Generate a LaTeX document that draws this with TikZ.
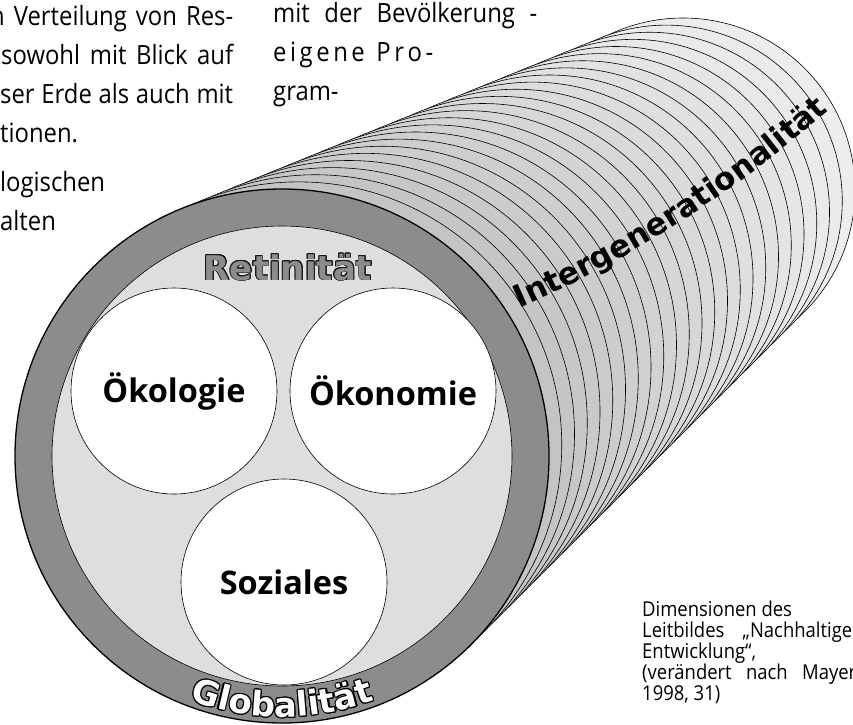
\documentclass[tikz,border=0pt]{standalone}
\usepackage{fontspec}
\setmainfont{Open Sans}
\newfontfamily\narrowsans{Open Sans}[FakeStretch=0.9]
\newfontfamily\dvs{DejaVu Sans}
\usetikzlibrary{decorations.text}
\definecolor{ringdark}{HTML}{8C8C8C}
\definecolor{discgray}{HTML}{DEDEDE}
\newcommand\olt[3]{%
  \leavevmode
  \foreach \oa in {15,45,...,345}{%
    \rlap{\hspace*{\fpeval{round(1.0*cosd(\oa),3)}pt}\raisebox{\fpeval{round(1.0*sind(\oa),3)}pt}{\color{#1}#3}}%
  }%
  {\color{#2}#3}}
\newcommand\glfont{\dvs\bfseries\fontsize{34}{34}\selectfont}
\newcommand\igfont{\dvs\bfseries\fontsize{31}{31}\selectfont}
\tikzset{
  body/.style={font=\narrowsans\fontsize{26.5}{30}\selectfont, inner sep=0pt, anchor=base west},
  capt/.style={font=\narrowsans\fontsize{20.5}{22}\selectfont, inner sep=0pt, anchor=base west},
  dim/.style={circle, draw=black, line width=0.6pt, fill=white, minimum size=206pt, inner sep=0pt,
              font=\bfseries\fontsize{32.5}{34}\selectfont},
  tubering/.style={draw=black, line width=0.6pt}
}
\begin{document}
\begin{tikzpicture}[x=1pt,y=-1pt]
\useasboundingbox (0,0) rectangle (853,724);
% receding rings of the tube
\foreach \k in {24,23,...,1}{
  \pgfmathsetmacro{\tp}{\k/24}
  \pgfmathsetmacro{\cx}{282+401*\tp}
  \pgfmathsetmacro{\cy}{456-266*\tp}
  \pgfmathsetmacro{\rr}{267-95*\tp}
  \pgfmathsetmacro{\gv}{76+17*\tp}
  \path[tubering, fill=white!\gv!black] (\cx,\cy) circle[radius=\rr];
}
% front face
\path[fill=ringdark, draw=black, line width=1.3pt] (282,456) circle[radius=267];
\path[fill=discgray, draw=black, line width=0.6pt] (282,456) circle[radius=230];
\node[dim] (oek) at (174,391) {Ökologie};
\node[dim] (oekon) at (393,391) {Ökonomie};
\node[dim] (soz) at (284,582) {Soziales};
\node[anchor=base, inner sep=0pt] (ret) at (288,280) {\olt{black!90}{ringdark}{\glfont Retinität}};
% Globalitaet along the bottom of the ring
\foreach \oa in {15,45,...,345}{
  \path[decorate, decoration={text along path, text align=center, text={|\glfont\color{black}|Globalität}}]
    ([shift={(\oa:1.2)}]282,456) ++(130:261) arc[start angle=130, end angle=50, radius=261];
}
\path[decorate, decoration={text along path, text align=center, text={|\glfont\color{white}|Globalität}}]
  (282,456) ++(130:261) arc[start angle=130, end angle=50, radius=261];
% Intergenerationalitaet along the tube
\path[decorate, decoration={text along path, text align=center, text={|\igfont\color{black}|Intergenerationalität}}]
  (512,312) .. controls (631,260) and (738,191) .. (835,105);
% surrounding page text
\node[body] (l1) at (-10,25) {\makebox[243pt][s]{n Verteilung von Res-}};
\node[body] (l2) at (1,64) {\makebox[232pt][s]{sowohl mit Blick auf}};
\node[body] (l3) at (0,103) {\makebox[233pt][s]{ser Erde als auch mit}};
\node[body] (l4) at (0,142) {tionen.};
\node[body] (l5) at (0,191) {logischen};
\node[body] (l6) at (0,230) {alten};
\node[body] (m1) at (273,22) {\makebox[264pt][s]{mit der Bevölkerung -}};
\node[body] (m2) at (273,61) {\makebox[160pt][s]{e\hfil i\hfil g\hfil e\hfil n\hfil e\hskip 8pt plus 1fil P\hfil r\hfil o\hfil -}};
\node[body] (m3) at (273,100) {gram-};
% caption
\node[capt] (c1) at (642,616) {Dimensionen des};
\node[capt] (c2) at (642,637) {\makebox[210pt][s]{Leitbildes „Nachhaltige}};
\node[capt] (c3) at (642,658) {Entwicklung“,};
\node[capt] (c4) at (642,679) {\makebox[214pt][s]{(verändert nach Mayer}};
\node[capt] (c5) at (642,700) {1998, 31)};
\end{tikzpicture}
\end{document}
